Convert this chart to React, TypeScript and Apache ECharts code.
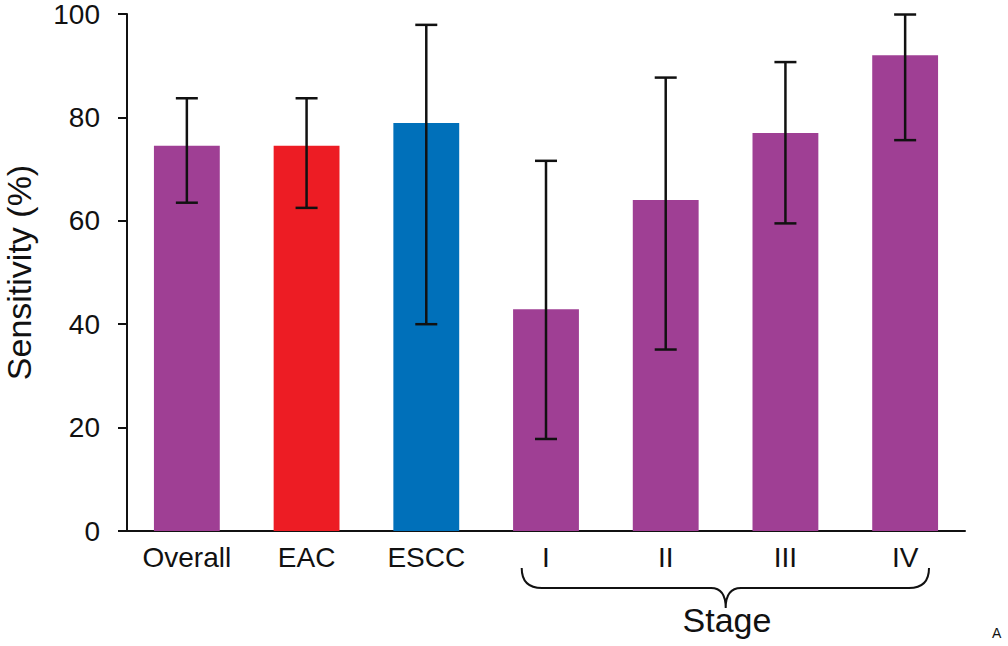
import React, { useEffect, useRef } from "react";
import * as echarts from "echarts";

const categories = ["Overall", "EAC", "ESCC", "I", "II", "III", "IV"];
const sensitivity = [74.5, 74.5, 78.9, 42.9, 64.0, 77.0, 92.0];
const ciLow = [63.5, 62.5, 40.0, 17.8, 35.1, 59.5, 75.6];
const ciHigh = [83.7, 83.7, 97.9, 71.6, 87.7, 90.7, 99.9];
const barColors = ["#9F3F94", "#ED1C24", "#0070BA", "#9F3F94", "#9F3F94", "#9F3F94", "#9F3F94"];
const yTicks = [0, 20, 40, 60, 80, 100];

const BRACE =
  "M521.7,568 C521.7,581 528,588 542,588 L711,588 C720,588 725.7,594 725.7,608 C725.7,594 731,588 741,588 L909,588 C922,588 929,581 929,568";

let registered = false;

export default function App() {
  const ref = useRef<HTMLDivElement>(null);
  useEffect(() => {
    if (!ref.current) return;
    if (!registered) {
      echarts.graphic.registerShape("brace", echarts.graphic.extendPath(BRACE, {}));
      registered = true;
    }
    const chart = echarts.init(ref.current, null, { renderer: "svg" });
    const font = "'Liberation Sans', Arial, sans-serif";
    chart.setOption({
      animation: false,
      grid: { left: 127, right: 43, top: 14, bottom: 115, outerBoundsMode: "none", containLabel: false },
      xAxis: {
        type: "category",
        data: categories,
        axisLine: { lineStyle: { color: "#111", width: 2 } },
        axisTick: { show: false },
        axisLabel: { color: "#111", fontSize: 28, fontFamily: font, margin: 12 },
      },
      yAxis: {
        type: "value",
        min: yTicks[0],
        max: yTicks[yTicks.length - 1],
        interval: 20,
        name: "Sensitivity (%)",
        nameLocation: "middle",
        nameGap: 93,
        nameTextStyle: { color: "#111", fontSize: 34, lineHeight: 30, fontFamily: font },
        axisLine: { show: true, lineStyle: { color: "#111", width: 2 } },
        axisTick: { show: true, inside: false, length: 9, lineStyle: { color: "#111", width: 2 } },
        splitLine: { show: false },
        axisLabel: { color: "#111", fontSize: 28, lineHeight: 24, fontFamily: font, margin: 27 },
      },
      series: [
        {
          type: "bar",
          barWidth: "55%",
          data: sensitivity.map((v, i) => ({ value: v, itemStyle: { color: barColors[i] } })),
        },
        {
          type: "custom",
          data: categories.map((_, i) => [i, ciLow[i], ciHigh[i]]),
          renderItem: (params: any, api: any) => {
            const x = api.value(0);
            const lo = api.coord([x, api.value(1)]);
            const hi = api.coord([x, api.value(2)]);
            const hw = 11;
            const style = { stroke: "#111", lineWidth: 2.5 };
            return {
              type: "group",
              children: [
                { type: "line", shape: { x1: lo[0], y1: lo[1], x2: hi[0], y2: hi[1] }, style },
                { type: "line", shape: { x1: lo[0] - hw, y1: lo[1], x2: lo[0] + hw, y2: lo[1] }, style },
                { type: "line", shape: { x1: hi[0] - hw, y1: hi[1], x2: hi[0] + hw, y2: hi[1] }, style },
              ],
            };
          },
          z: 5,
        },
      ],
      graphic: [
        { type: "brace", x: 0, y: 0, style: { stroke: "#111", lineWidth: 2, fill: "none" } },
        {
          type: "text",
          x: 727,
          y: 620,
          style: { text: "Stage", fill: "#111", fontSize: 34, fontFamily: font, align: "center", verticalAlign: "middle" },
        },
        {
          type: "text",
          x: 992,
          y: 633,
          style: { text: "A", fill: "#111", fontSize: 14, fontFamily: font, align: "left", verticalAlign: "middle" },
        },
      ],
    });
    return () => chart.dispose();
  }, []);
  return <div ref={ref} style={{ width: 1008, height: 646, position: "absolute", left: 0, top: 0 }} />;
}
